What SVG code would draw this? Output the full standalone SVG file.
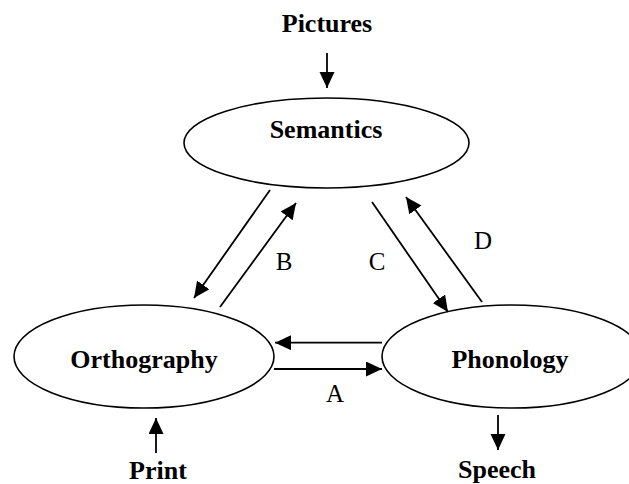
<svg xmlns="http://www.w3.org/2000/svg" width="629" height="484" viewBox="0 0 629 484">
<style>
.node{fill:#fff;stroke:#000;stroke-width:1.6}
.t{font-family:"Liberation Serif","Times New Roman",serif;font-weight:bold;font-size:26px;text-anchor:middle;fill:#000}
.l{font-family:"Liberation Serif","Times New Roman",serif;font-size:25px;text-anchor:middle;fill:#000}
.c{stroke:#000;stroke-width:1.8;fill:none;marker-end:url(#ah)}
</style>
<defs>
<marker id="ah" markerUnits="userSpaceOnUse" markerWidth="17" markerHeight="16" refX="16" refY="7.5" orient="auto" viewBox="0 0 17 16">
<path d="M0,0 L16,7.5 L0,15 z" fill="#000"/>
</marker>
</defs>
<rect width="629" height="484" fill="#fff"/>
<g id="semantics">
<ellipse class="node" cx="326.5" cy="143" rx="142.5" ry="45"/>
<text class="t" x="326" y="138">Semantics</text>
</g>
<g id="orthography">
<ellipse class="node" cx="144" cy="356.5" rx="130" ry="51.5"/>
<text class="t" x="144" y="368">Orthography</text>
</g>
<g id="phonology">
<ellipse class="node" cx="512" cy="356.5" rx="130" ry="51.5"/>
<text class="t" x="510" y="368">Phonology</text>
</g>
<g id="pictures"><text class="t" x="327" y="32">Pictures</text></g>
<g id="print"><text class="t" x="158" y="479">Print</text></g>
<g id="speech"><text class="t" x="497" y="478">Speech</text></g>
<g id="connectors">
<line class="c" x1="327" y1="53" x2="327" y2="88"/>
<line class="c" x1="156" y1="453" x2="156" y2="418"/>
<line class="c" x1="498" y1="415" x2="498" y2="450"/>
<line class="c" x1="382" y1="342.7" x2="275" y2="342.7"/>
<line class="c" x1="274" y1="369" x2="382" y2="369"/>
<line class="c" x1="270" y1="190" x2="194" y2="298"/>
<line class="c" x1="220" y1="307" x2="296" y2="203"/>
<line class="c" x1="372" y1="202" x2="448" y2="312"/>
<line class="c" x1="482" y1="302" x2="406" y2="197"/>
</g>
<g id="labels">
<text class="l" x="335" y="402">A</text>
<text class="l" x="284" y="270">B</text>
<text class="l" x="377" y="270">C</text>
<text class="l" x="483" y="249">D</text>
</g>
</svg>
